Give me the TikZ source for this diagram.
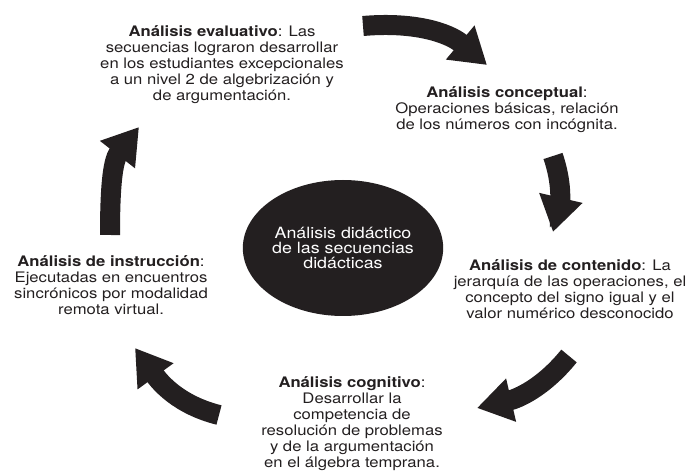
\documentclass[tikz,border=0pt]{standalone}
\usepackage{fontspec}
\setmainfont{TeX Gyre Heros}[FakeStretch=1.15]
\usepackage{tikz}
\usetikzlibrary{arrows.meta, shapes.geometric, positioning}
\definecolor{cycleblack}{RGB}{35,31,32}
\tikzset{
  phase/.style={
    align=center, anchor=north, inner sep=0pt,
    font=\fontsize{14.5}{16}\selectfont, text=cycleblack
  },
  core/.style={
    ellipse, fill=cycleblack, text=white, align=center, inner sep=0pt,
    minimum width=180pt, minimum height=136pt,
    font=\fontsize{15.5}{15}\selectfont
  },
  cyclearrow/.style={
    draw=cycleblack, line width=20pt,
    -{Triangle[length=35pt, width=42pt]}
  }
}

\begin{document}
\begin{tikzpicture}[x=1pt, y=1pt]
  \useasboundingbox (0,0) rectangle (693,474);

  \node[core] (didactico) at (343,226)
    {Análisis didáctico\\de las secuencias\\didácticas};

  \node[phase] (evaluativo) at (222,449)
    {\textbf{Análisis evaluativo}: Las\\secuencias lograron desarrollar\\
     en los estudiantes excepcionales\\a un nivel 2 de algebrización y\\
     de argumentación.};
  \node[phase] (conceptual) at (507,388)
    {\textbf{Análisis conceptual}:\\Operaciones básicas, relación\\
     de los números con incógnita.};
  \node[phase] (contenido) at (570,215)
    {\textbf{Análisis de contenido}: La\\jerarquía de las operaciones, el\\
     concepto del signo igual y el\\valor numérico desconocido};
  \node[phase] (cognitivo) at (352,98)
    {\textbf{Análisis cognitivo}:\\Desarrollar la\\competencia de\\
     resolución de problemas\\y de la argumentación\\en el álgebra temprana.};
  \node[phase] (instruccion) at (111,219)
    {\textbf{Análisis de instrucción}:\\Ejecutadas en encuentros\\
     sincrónicos por modalidad\\remota virtual.};

  % arrow ends
  \coordinate (a1s) at (363,448);
  \coordinate (a1e) at (487,409);
  \coordinate (a2s) at (553,318);
  \coordinate (a2e) at (553,242);
  \coordinate (a3s) at (569,118);
  \coordinate (a3e) at (477,66);
  \coordinate (a4s) at (219,59);
  \coordinate (a4e) at (135,126);
  \coordinate (a5s) at (110,239);
  \coordinate (a5e) at (139,347);

  \draw[cyclearrow] (a1s) to[out=5, in=140] (a1e);
  \draw[cyclearrow] (a2s) to[out=-71, in=77] (a2e);
  \draw[cyclearrow] (a3s) to[out=-129, in=13] (a3e);
  \draw[cyclearrow] (a4s) to[out=166, in=-54] (a4e);
  \draw[cyclearrow] (a5s) to[out=90, in=-128] (a5e);
\end{tikzpicture}
\end{document}
